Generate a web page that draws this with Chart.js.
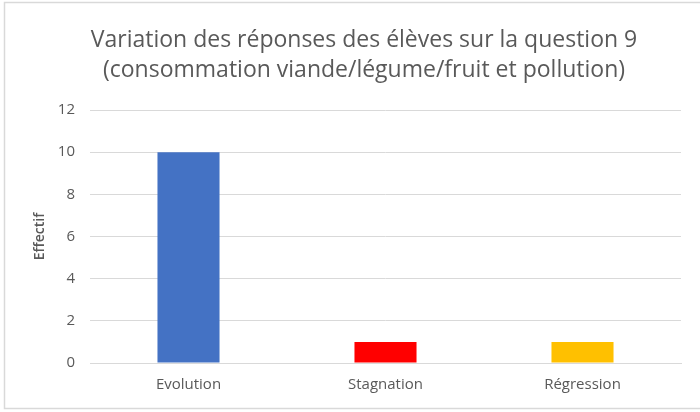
<!DOCTYPE html>
<html>
<head>
<meta charset="utf-8">
<script src="https://cdn.jsdelivr.net/npm/chart.js@4/dist/chart.umd.min.js"></script>
<style>
html,body{margin:0;padding:0;background:#fff;}
#wrap{width:700px;height:412px;position:relative;}
</style>
</head>
<body>
<div id="wrap"><canvas id="c" width="700" height="412"></canvas></div>
<script>
const categories = ["Evolution", "Stagnation", "Régression"];
const values = [10, 1, 1];
const barColors = ["#4472C4", "#FF0000", "#FFC000"];
const titleLines = ["Variation des réponses des élèves sur la question 9", "(consommation viande/légume/fruit et pollution)"];
const yTitle = "Effectif";
const yMin = 0, yMax = 12, yStep = 2;

const borderPlugin = {
  id: 'outerBorder',
  beforeDraw(chart) {
    const ctx = chart.ctx;
    ctx.save();
    ctx.fillStyle = '#fff';
    ctx.fillRect(0, 0, chart.width, chart.height);
    ctx.strokeStyle = '#d9d9d9';
    ctx.lineWidth = 1.5;
    ctx.strokeRect(4.5, 2.5, 720, 406);
    ctx.restore();
  }
};

new Chart(document.getElementById('c'), {
  type: 'bar',
  data: {
    labels: categories,
    datasets: [{
      data: values,
      backgroundColor: barColors,
      borderWidth: 0,
      categoryPercentage: 1,
      barPercentage: 0.315
    }]
  },
  plugins: [borderPlugin],
  options: {
    responsive: false,
    animation: false,
    devicePixelRatio: 1,
    layout: { padding: { left: 28, right: 0, top: 2, bottom: 5 } },
    plugins: {
      legend: { display: false },
      tooltip: { enabled: false },
      title: {
        display: true,
        text: titleLines,
        color: '#595959',
        font: { family: 'Open Sans', size: 23, weight: 'normal', lineHeight: '30px' },
        padding: { top: 23, bottom: 25 }
      }
    },
    scales: {
      x: {
        grid: { display: false, drawTicks: false },
        border: { display: true, color: '#d9d9d9', width: 1 },
        ticks: { color: '#595959', font: { family: 'Open Sans', size: 15 }, padding: 13 },
        afterFit(scale) { scale.height = 44; }
      },
      y: {
        min: yMin, max: yMax,
        ticks: { stepSize: yStep, color: '#595959', font: { family: 'Open Sans', size: 15 }, padding: 15 },
        grid: { color: '#d9d9d9', drawTicks: false },
        border: { display: false },
        title: {
          display: true, text: yTitle, color: '#595959',
          font: { family: 'Open Sans', size: 14, weight: '600', lineHeight: 1.2 },
          padding: { top: 4, bottom: 0 }
        },
        afterFit(scale) { scale.width = 62; }
      },
      yRight: {
        type: 'linear',
        position: 'right',
        display: true,
        ticks: { display: false },
        grid: { display: false, drawTicks: false },
        border: { display: false },
        afterFit(scale) { scale.width = 19; }
      }
    }
  }
});
</script>
</body>
</html>
